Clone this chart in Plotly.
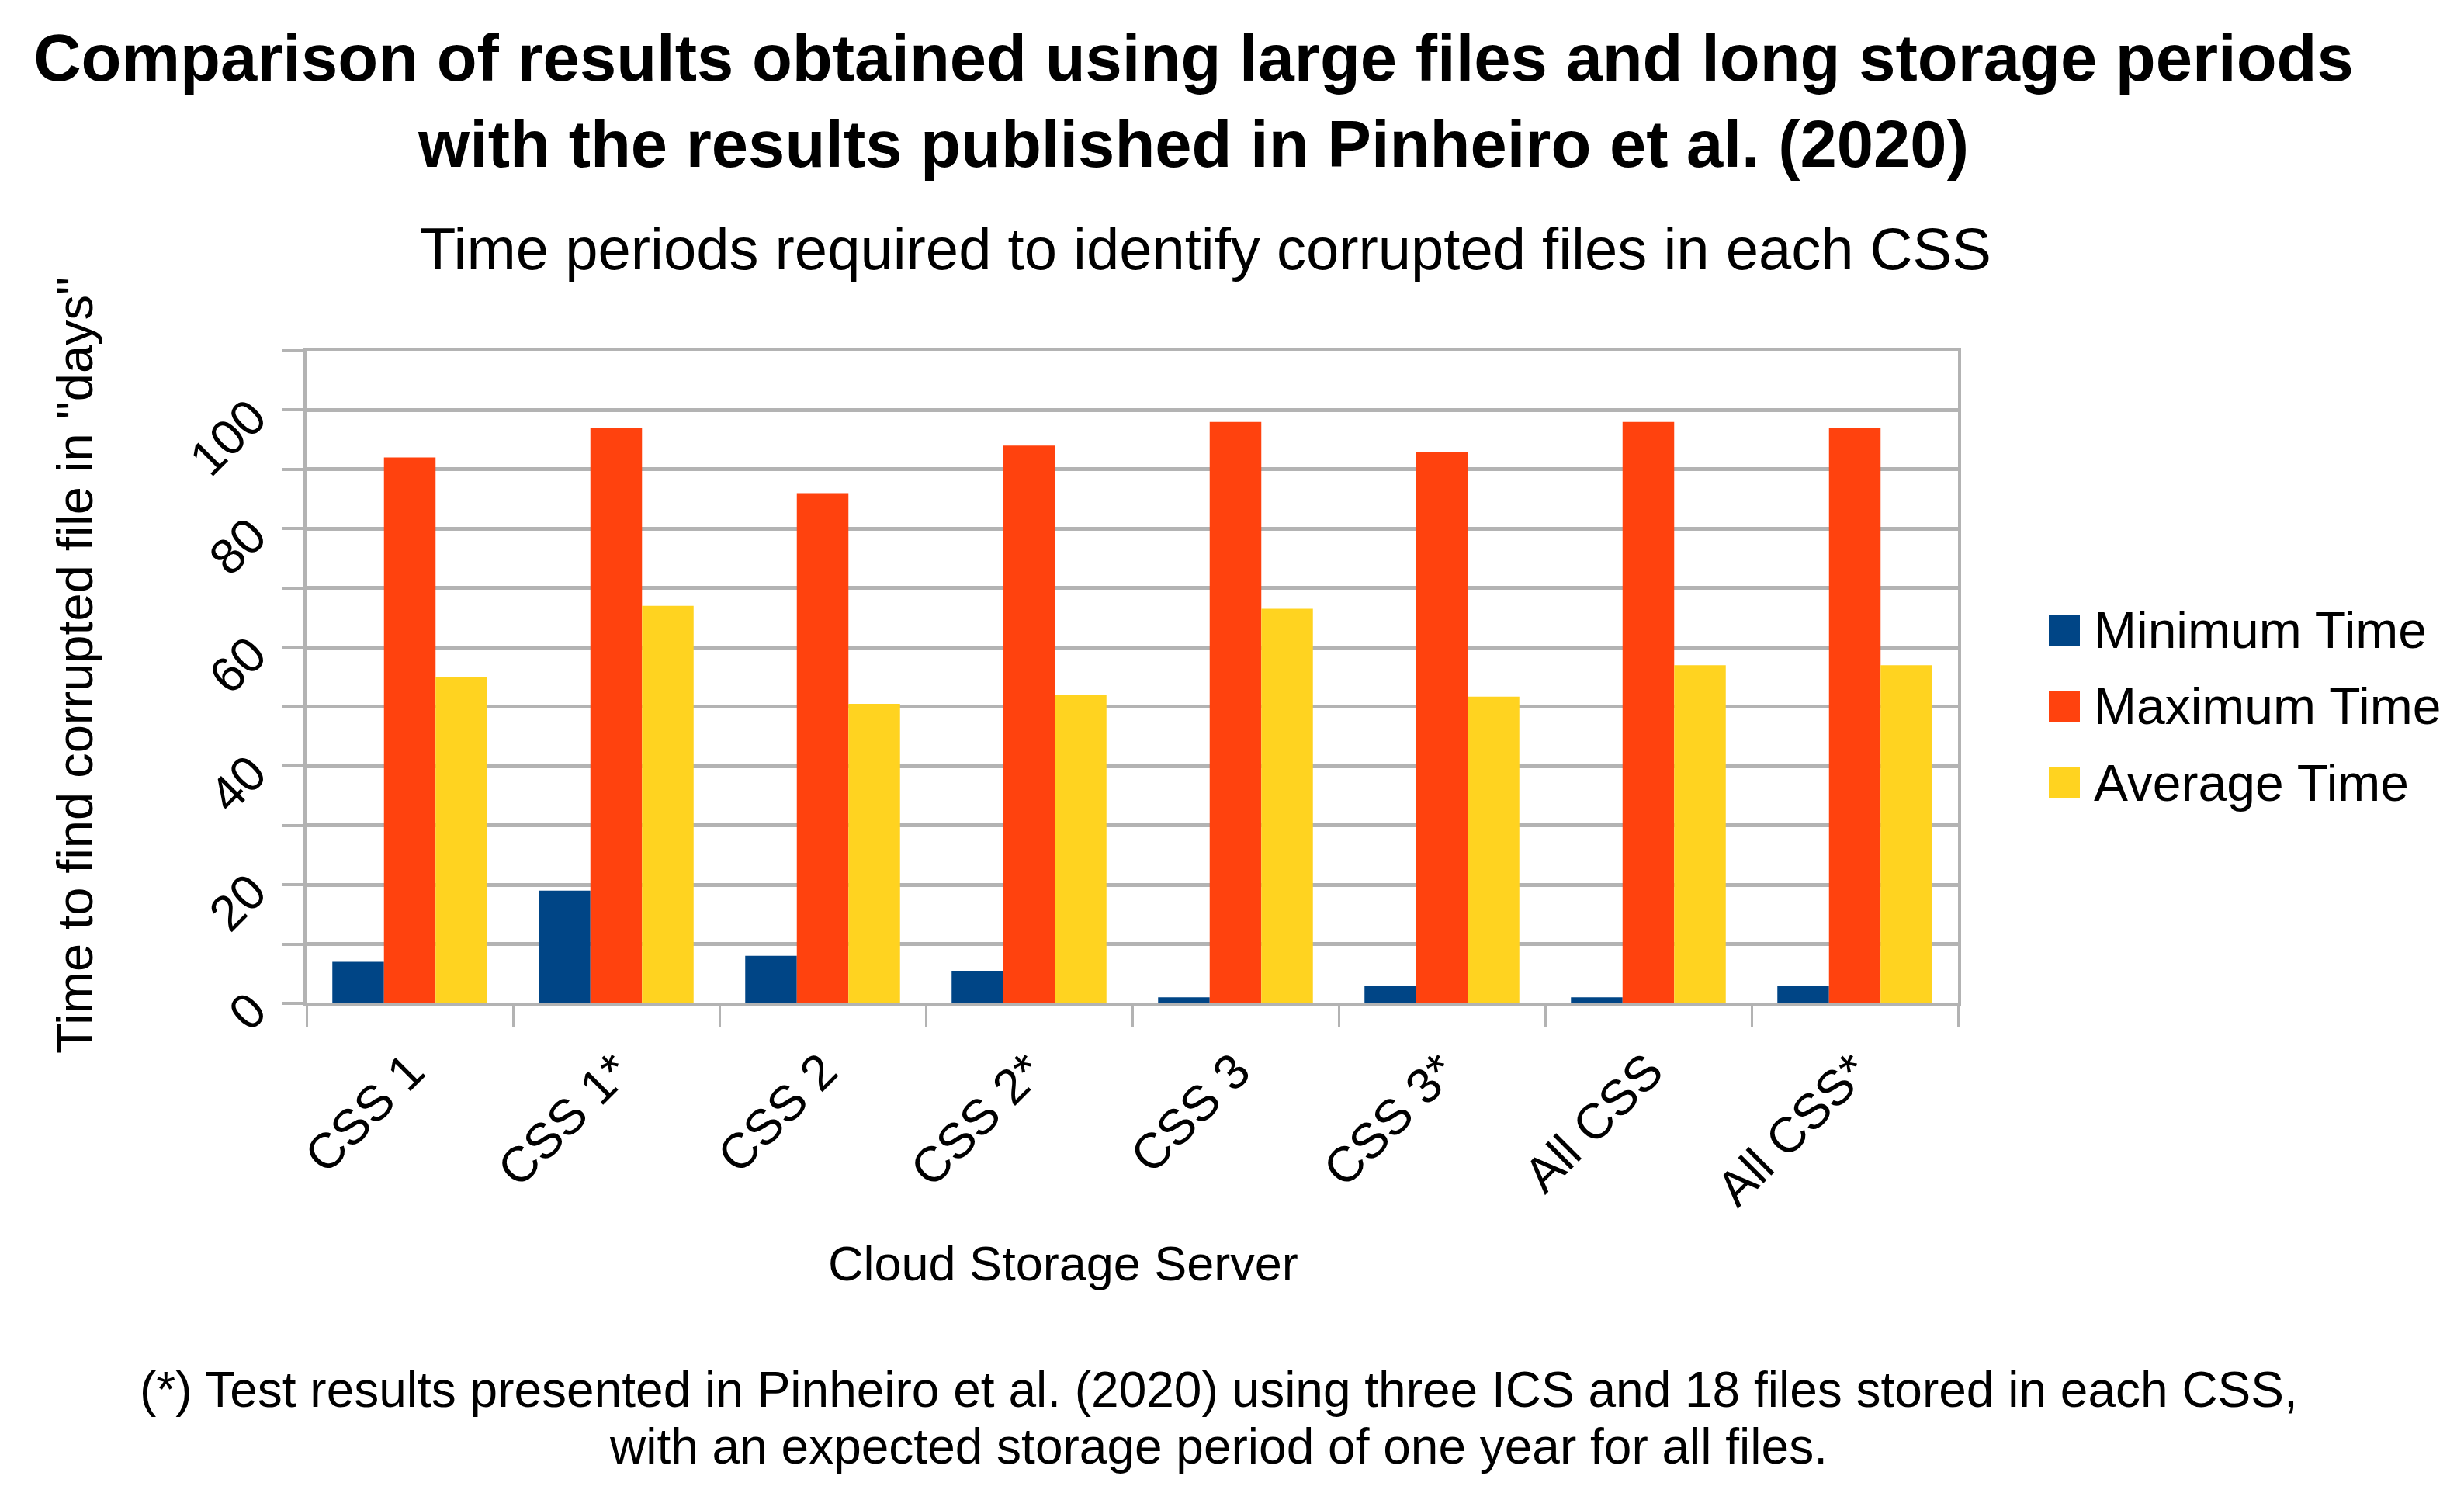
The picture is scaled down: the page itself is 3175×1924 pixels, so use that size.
import plotly.graph_objects as go

categories = ["CSS 1", "CSS 1*", "CSS 2", "CSS 2*", "CSS 3", "CSS 3*", "All CSS", "All CSS*"]
series_names = ["Minimum Time", "Maximum Time", "Average Time"]
min_time = [7, 19, 8, 5.5, 1, 3, 1, 3]
max_time = [92, 97, 86, 94, 98, 93, 98, 97]
avg_time = [55, 67, 50.5, 52, 66.5, 51.7, 57, 57]
series_values = [min_time, max_time, avg_time]
series_colors = ["#004586", "#ff420e", "#ffd320"]
y_tickvals = [0, 10, 20, 30, 40, 50, 60, 70, 80, 90, 100, 110]
y_ticktext = ["0", "", "20", "", "40", "", "60", "", "80", "", "100", ""]

title_text = ("<b>Comparison of results obtained using large files and long storage periods<br>"
              "with the results published in Pinheiro et al. (2020)</b>")
subtitle_text = "Time periods required to identify corrupted files in each CSS"
x_title = "Cloud Storage Server"
y_title = 'Time to find corrupted file in "days"'
foot_1 = "(*) Test results presented in Pinheiro et al. (2020) using three ICS and 18 files stored in each CSS,"
foot_2 = "with an expected storage period of one year for all files."

W, H = 3175, 1924
L, R, T, B = 387, 2515, 444, 1285
FONT = "Liberation Sans, Arial, sans-serif"
GRID = "#b3b3b3"


def px(X):
    return (X - L) / (R - L)


def py(Y):
    return (B - Y) / (B - T)


fig = go.Figure()
for name, vals, col in zip(series_names, series_values, series_colors):
    fig.add_trace(go.Bar(x=categories, y=vals, name=name, marker_color=col,
                         marker_line_width=0, showlegend=False))

fig.update_layout(
    width=W, height=H,
    margin=dict(l=L, r=W - R, t=T, b=H - B, autoexpand=False),
    paper_bgcolor="white", plot_bgcolor="white",
    barmode="group", bargap=0.25, bargroupgap=0,
    font=dict(family=FONT, size=63, color="#000000"),
    title=dict(text=title_text, x=1530 / W, xanchor="center", xref="container",
               y=1 - 96 / H, yanchor="top", yref="container",
               font=dict(family=FONT, size=85, color="#000000")),
)

fig.update_xaxes(
    type="category", showgrid=False, showline=True, mirror=True,
    linecolor=GRID, linewidth=4, ticks="outside", tickson="boundaries",
    ticklen=27, tickwidth=3, tickcolor=GRID, tickangle=-45,
    tickfont=dict(family=FONT, size=64, color="#000000"),
    ticklabelstandoff=20, automargin=False,
)
fig.update_yaxes(
    range=[0, 110], tickmode="array", tickvals=y_tickvals, ticktext=y_ticktext,
    showgrid=True, gridcolor=GRID, gridwidth=4.5, zeroline=False,
    showline=True, mirror=True, linecolor=GRID, linewidth=4,
    ticks="outside", ticklen=28, tickwidth=4, tickcolor=GRID, tickangle=-45,
    tickfont=dict(family=FONT, size=64, color="#000000"),
    ticklabelstandoff=26, automargin=False,
)

ann = []
ann.append(dict(text=subtitle_text, x=px(1545), y=py(312), xref="paper", yref="paper",
                xanchor="center", yanchor="middle", showarrow=False,
                font=dict(family=FONT, size=76, color="#000000")))
ann.append(dict(text=y_title, x=px(88), y=py(850), xref="paper", yref="paper",
                xanchor="center", yanchor="middle", textangle=-90, showarrow=False,
                font=dict(family=FONT, size=65, color="#000000")))
ann.append(dict(text=x_title, x=px(1362), y=py(1620), xref="paper", yref="paper",
                xanchor="center", yanchor="middle", showarrow=False,
                font=dict(family=FONT, size=63, color="#000000")))
ann.append(dict(text=foot_1, x=px(1562), y=py(1783), xref="paper", yref="paper",
                xanchor="center", yanchor="middle", showarrow=False,
                font=dict(family=FONT, size=64, color="#000000")))
ann.append(dict(text=foot_2, x=px(1562), y=py(1856), xref="paper", yref="paper",
                xanchor="center", yanchor="middle", showarrow=False,
                font=dict(family=FONT, size=64, color="#000000")))

# legend (drawn manually so the swatches match the reference size)
legend_y = [804, 902, 1001]
shapes = []
for name, col, yc in zip(series_names, series_colors, legend_y):
    shapes.append(dict(type="rect", xref="paper", yref="paper",
                       x0=px(2632), x1=px(2672), y0=py(yc + 20), y1=py(yc - 20),
                       fillcolor=col, line=dict(width=0)))
    ann.append(dict(text=name, x=px(2688), y=py(yc), xref="paper", yref="paper",
                    xanchor="left", yanchor="middle", showarrow=False,
                    font=dict(family=FONT, size=66, color="#000000")))

fig.update_layout(annotations=ann, shapes=shapes)
fig.write_html("out.html")
